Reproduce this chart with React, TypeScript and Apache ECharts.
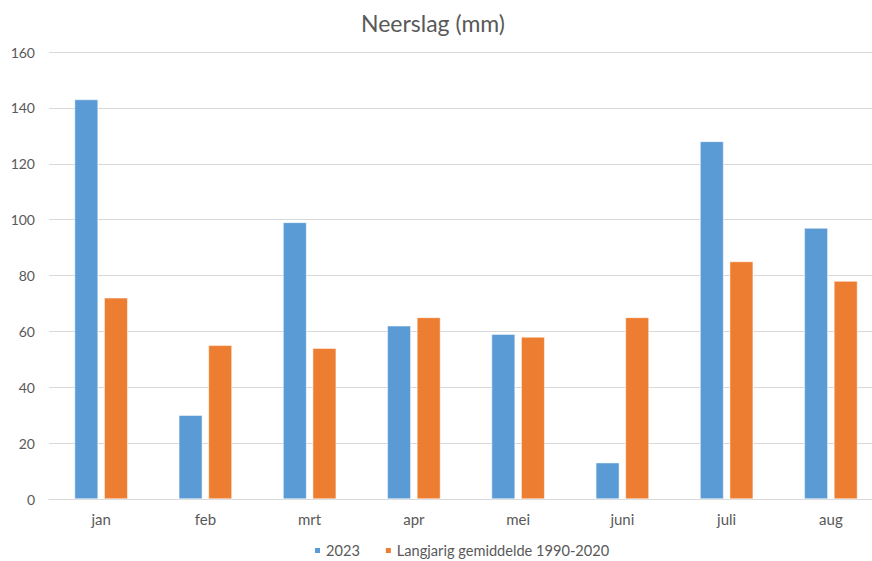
import React, { useEffect, useRef } from "react";
import * as echarts from "echarts";

const categories = ["jan", "feb", "mrt", "apr", "mei", "juni", "juli", "aug"];
const values2023 = [143, 30, 99, 62, 59, 13, 128, 97];
const valuesAvg = [72, 55, 54, 65, 58, 65, 85, 78];
const seriesNames = ["2023", "Langjarig gemiddelde 1990-2020"];

export default function App() {
  const ref = useRef<HTMLDivElement>(null);
  useEffect(() => {
    if (!ref.current) return;
    const chart = echarts.init(ref.current, null, { renderer: "svg" });
    const font = "Lato, 'Open Sans', 'Noto Sans', sans-serif";
    chart.setOption({
      animation: false,
      backgroundColor: "#ffffff",
      title: {
        text: "Neerslag (mm)",
        left: 356,
        top: 6,
        textStyle: { color: "#595959", fontSize: 23, fontWeight: "normal", fontFamily: font },
      },
      legend: {
        top: 538,
        left: 308,
        itemWidth: 7,
        itemHeight: 7,
        itemGap: 24,
        icon: "rect",
        textStyle: { color: "#595959", fontSize: 14.6, fontFamily: font },
        data: seriesNames,
      },
      grid: {
        left: 49,
        width: 834,
        top: 52,
        bottom: 62,
        containLabel: false,
        outerBoundsMode: "none",
      },
      xAxis: {
        type: "category",
        data: categories,
        axisLine: { lineStyle: { color: "#D9D9D9" } },
        axisTick: { show: false },
        axisLabel: { color: "#595959", fontSize: 15, margin: 12, fontFamily: font },
      },
      yAxis: {
        type: "value",
        min: 0,
        max: 160,
        interval: 20,
        axisLine: { show: false },
        axisTick: { show: false },
        splitLine: { lineStyle: { color: "#D9D9D9" } },
        axisLabel: { color: "#595959", fontSize: 14, margin: 14, fontFamily: font },
      },
      series: [
        {
          name: seriesNames[0],
          type: "bar",
          data: values2023,
          barWidth: 23.5,
          barGap: "26%",
          itemStyle: { color: "#5B9BD5", borderColor: "#ffffff", borderWidth: 0.5 },
        },
        {
          name: seriesNames[1],
          type: "bar",
          data: valuesAvg,
          barWidth: 23.5,
          barGap: "26%",
          itemStyle: { color: "#ED7D31", borderColor: "#ffffff", borderWidth: 0.5 },
        },
      ],
    });
    return () => chart.dispose();
  }, []);
  return (
    <div
      ref={ref}
      style={{ position: "fixed", left: 0, top: 0, width: 872, height: 561 }}
    />
  );
}
